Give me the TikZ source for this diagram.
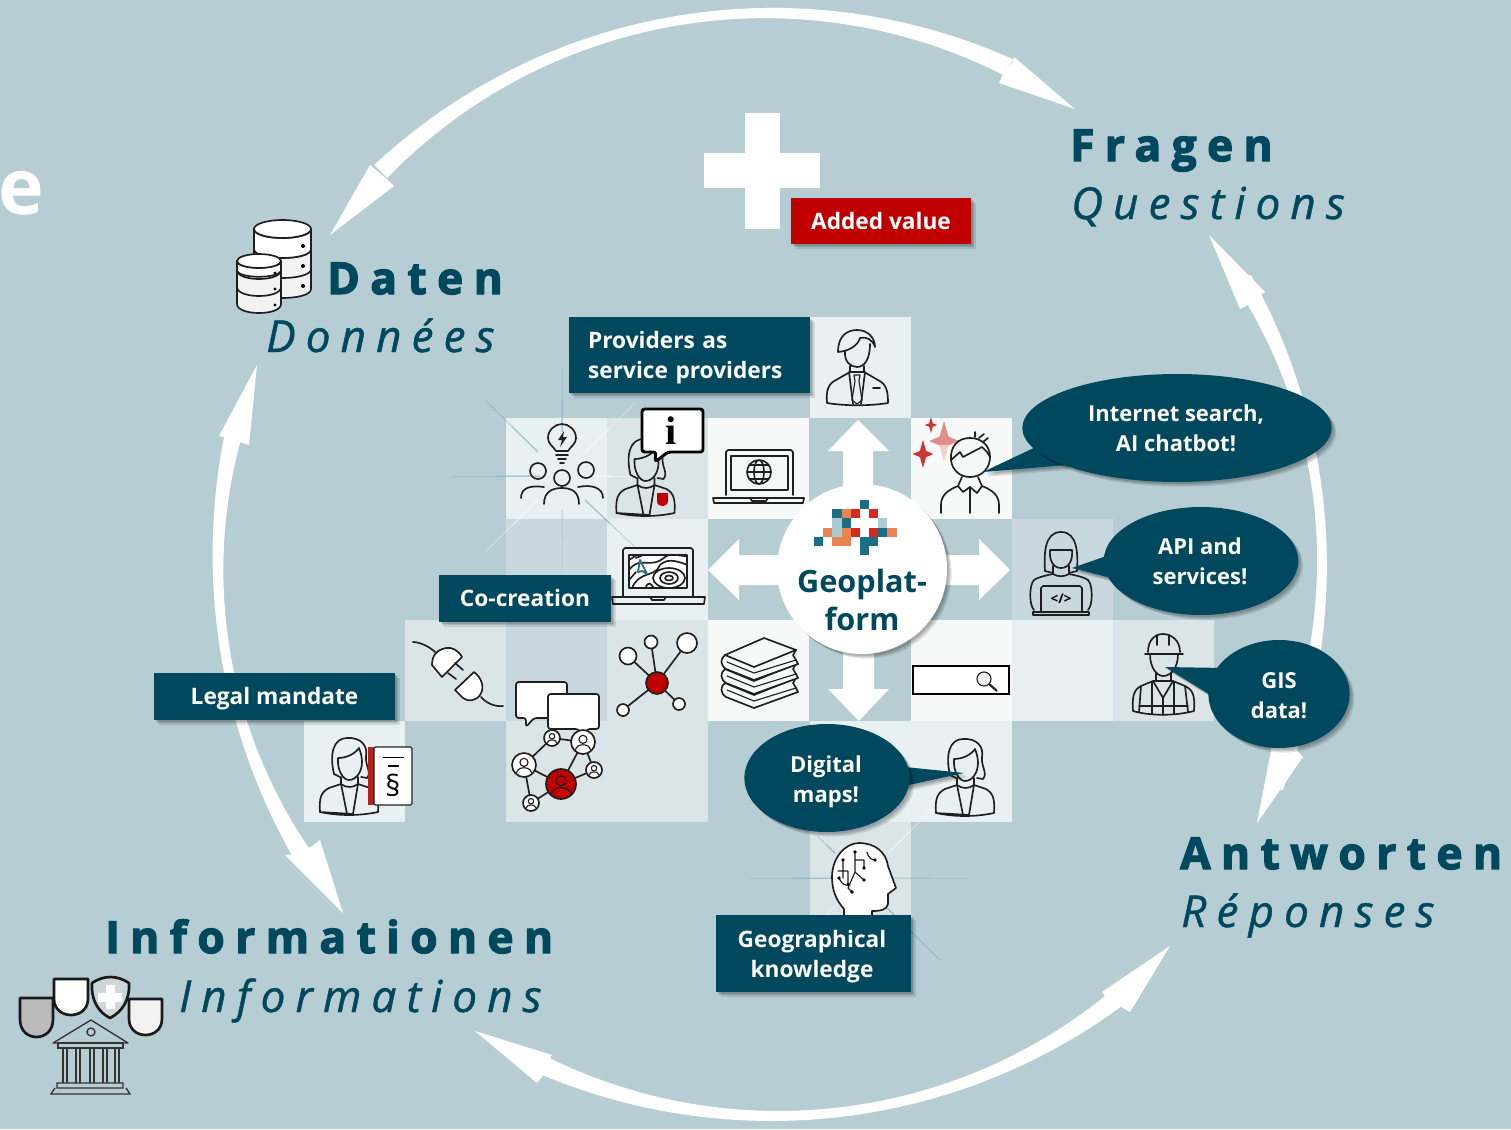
\documentclass[tikz,border=0pt]{standalone}
\usepackage{fontspec}
\setmainfont{Open Sans}
\newfontfamily\titlebold[LetterSpace=24,FakeBold=3]{Open Sans Bold}
\newfontfamily\titleital[LetterSpace=23,FakeBold=1]{Open Sans Italic}
\newfontfamily\serifbold{Liberation Serif Bold}
\usetikzlibrary{shapes.geometric,shadows,calc}
\definecolor{bgc}{HTML}{B5CDD3}
\definecolor{navy}{HTML}{00485E}
\definecolor{ca}{HTML}{E8F0F2}
\definecolor{cb}{HTML}{DBE5E8}
\definecolor{cc}{HTML}{C9D8DE}
\definecolor{cd}{HTML}{F7F9F9}
\definecolor{redc}{HTML}{C00000}
\definecolor{logoT}{HTML}{1C6E85}
\definecolor{logoO}{HTML}{E8844F}
\definecolor{logoR}{HTML}{D9291C}
\definecolor{logoL}{HTML}{A9CBD3}
\tikzset{
 softshadow/.style={
  general shadow={shadow xshift=1.5pt,shadow yshift=-1.5pt,fill=black,opacity=.12},
  general shadow={shadow xshift=2.5pt,shadow yshift=-2.5pt,fill=black,opacity=.12},
  general shadow={shadow xshift=3.5pt,shadow yshift=-3.5pt,fill=black,opacity=.10}},
 labelbox/.style={fill=navy,inner sep=0pt,softshadow},
 lbltext/.style={text=white,inner sep=0pt,align=center,font=\bfseries\fontsize{17}{22.5}\selectfont},
 bub/.style={ellipse,fill=navy,inner sep=0pt,softshadow},
 bubtext/.style={text=white,inner sep=0pt,align=center,font=\bfseries\fontsize{16.5}{22.5}\selectfont},
 tailshape/.style={fill=navy,softshadow},
 ic/.style={draw=black!88,line width=1.25pt,line join=round,line cap=round},
 icthin/.style={draw=black!88,line width=.85pt,line join=round,line cap=round},
 titleA/.style={anchor=base west,inner sep=0pt,text=navy,font=\titlebold\fontsize{33}{33}\selectfont},
 titleB/.style={anchor=base west,inner sep=0pt,text=navy,font=\titleital\fontsize{33}{33}\selectfont},
 declare function={hw(\a,\m,\h)=4.8+4.4*((\a-\m)/\h)^2;}
}
\newcommand{\cellbox}[3]{\fill[#3] (#1,#2) rectangle ++(101,101);}
\newcommand{\ringarc}[4]{%
 \pgfmathsetmacro{\mm}{(#1+#2)/2}\pgfmathsetmacro{\hh}{abs(#2-#1)/2}%
 \fill[white] plot[domain=#1:#2,samples=50] ({#3+(553+hw(\x,\mm,\hh))*cos(\x)},{#4+(550+hw(\x,\mm,\hh))*sin(\x)})
  -- plot[domain=#2:#1,samples=50] ({#3+(553-hw(\x,\mm,\hh))*cos(\x)},{#4+(550-hw(\x,\mm,\hh))*sin(\x)}) -- cycle;}
\newcommand{\ray}[5]{\draw[#5,line width=.5pt,opacity=.45] (#1,#2) -- (#3,#4);
 \draw[#5,line width=1.1pt,opacity=.3] ($(#1,#2)!.5!(#3,#4)$) -- (#3,#4);}
\newcommand{\womanbust}[2]{\begin{scope}[shift={(#1,#2)}]
 \draw[ic] (-15,36) .. controls (-20,15) and (-15,0) .. (-2,0) .. controls (12,-1) and (19,8) .. (17,18) .. controls (16,28) and (23,34) .. (18,40) -- (12,39);
 \draw[ic] (-15,36) -- (-9,39);
 \draw[ic] (-11,20) .. controls (-3,20) and (6,16) .. (10,10) .. controls (12,15) and (13,20) .. (13,24) .. controls (13,34) and (7,42) .. (0,42) .. controls (-6,42) and (-12,32) .. (-11,20);
 \draw[ic] (-8,39) -- (-8,46) .. controls (-3,50) and (4,50) .. (9,46) -- (9,39);
 \draw[ic] (-29,74) .. controls (-30,60) and (-28,54) .. (-20,50) -- (-8,46) -- (-2,76);
 \draw[ic] (4,76) -- (9,46) -- (21,50) .. controls (28,54) and (30,60) .. (29,74) .. controls (10,78) and (-10,78) .. (-29,74) -- cycle;
\end{scope}}
\newcommand{\sparkle}[4]{\fill[#4] (#1,{#2-#3}) -- ({#1+.22*#3},{#2-.22*#3}) -- ({#1+.75*#3},#2) -- ({#1+.22*#3},{#2+.22*#3}) -- (#1,{#2+#3}) -- ({#1-.22*#3},{#2+.22*#3}) -- ({#1-.75*#3},#2) -- ({#1-.22*#3},{#2-.22*#3}) -- cycle;}
\newcommand{\netnode}[4]{\filldraw[ic,fill=#4] (#1,#2) circle (#3);
 \draw[icthin] (#1,{#2-.22*#3}) circle ({.34*#3});
 \draw[icthin] ({#1-.62*#3},{#2+.62*#3}) .. controls ({#1-.5*#3},{#2+.1*#3}) and ({#1+.5*#3},{#2+.1*#3}) .. ({#1+.62*#3},{#2+.62*#3});}
\newcommand{\shieldd}[5]{\filldraw[draw=black!90,line width=2pt,line join=round,fill=#5] (#1,#2) -- (#3,#2) -- (#3,{#2+.55*(#4-#2)}) .. controls (#3,{#2+1.15*(#4-#2)}) and (#1,{#2+1.15*(#4-#2)}) .. (#1,{#2+.55*(#4-#2)}) -- cycle;}
\newcommand{\cylbody}[5]{\filldraw[ic,fill=#5] (#1,#3) -- (#1,#4) .. controls (#1,{#4+12}) and (#2,{#4+12}) .. (#2,#4) -- (#2,#3) -- cycle;}
\newcommand{\cylband}[3]{\draw[ic] (#1,#3) .. controls (#1,{#3+12}) and (#2,{#3+12}) .. (#2,#3);}
\newcommand{\bookk}[1]{\begin{scope}[shift={(0,#1)}]
 \filldraw[ic,fill=cd] (725,655) -- (764,638) -- (796,650) -- (793,655) -- (796,660) -- (798,664) -- (754,680) -- (726,669) .. controls (720,665) and (720,659) .. (725,655) -- cycle;
 \draw[ic] (725,655) -- (754,667) -- (796,650);
 \draw[icthin] (727,662) -- (754,673) -- (796,660);
\end{scope}}
\begin{document}
\begin{tikzpicture}[x=.75pt,y=-.75pt]
\useasboundingbox (0,0) rectangle (1511,1129);
\fill[bgc] (0,0) rectangle (1511,1129);
% grid cells
\cellbox{810}{317}{ca}
\cellbox{506}{418}{ca}\cellbox{607}{418}{cb}\cellbox{708}{418}{cd}\cellbox{911}{418}{cd}
\cellbox{506}{519}{cc}\cellbox{607}{519}{ca}\cellbox{1012}{519}{cc}
\cellbox{405}{620}{cb}\cellbox{506}{620}{cc}\cellbox{607}{620}{cb}\cellbox{708}{620}{cd}\cellbox{911}{620}{cd}\cellbox{1012}{620}{ca}\cellbox{1113}{620}{cb}
\cellbox{304}{721}{ca}\cellbox{506}{721}{cb}\cellbox{607}{721}{cb}\cellbox{810}{721}{ca}\cellbox{911}{721}{ca}
\fill[cb] (810,822) rectangle (911,925);
% ring
\ringarc{-134.6}{-64.3}{769}{563}
\ringarc{-31}{24}{769}{563}
\ringarc{52}{114.5}{775}{566}
\ringarc{148}{195}{771}{563}
\fill[white] (1075,109) -- (1014,57) -- (1012,63) -- (1002,76) -- (999,83) -- cycle;
\fill[white] (330,235) -- (370,165) -- (376,170) -- (388,180) -- (394,186) -- cycle;
\fill[white] (1209,235) -- (1265,292) -- (1258,297) -- (1246,306) -- (1240,309) -- cycle;
\fill[white] (1257,823) -- (1303,757) -- (1296,750) -- (1285,740) -- (1273,740) -- cycle;
\fill[white] (1170,946) -- (1102,992) -- (1108,1000) -- (1118,1005) -- (1130,1012) -- cycle;
\fill[white] (475,1031) -- (552,1055) -- (548,1062) -- (542,1077) -- (537,1083) -- cycle;
\fill[white] (257,365) -- (219,436) -- (227,438) -- (242,443) -- (249,445) -- cycle;
\fill[white] (343,913) -- (285,855) -- (298,854) -- (312,846) -- (320,840) -- cycle;
% rays
\foreach \a/\b/\c/\d/\e in {452/476/540/476/logoT!55,562/367/562/432/logoT!55,485/400/538/452/logoT!70,635/547/585/500/logoT!70,640/476/585/476/white,562/572/562/510/logoT!35,635/403/585/453/white,485/552/538/500/white,
 750/878/835/878/logoT!55,970/878/890/878/logoT!45,817/836/835/853/logoT!70,940/960/886/907/logoT!70,933/809/888/853/white,815/925/842/900/white}
 {\ray{\a}{\b}{\c}{\d}{\e}}
% central arrows
\fill[white] (858,420) -- (889,451) -- (873,451) -- (873,500) -- (843,500) -- (843,451) -- (828,451) -- cycle;
\fill[white] (1010,570) -- (979,600) -- (979,585) -- (930,585) -- (930,555) -- (979,555) -- (979,539) -- cycle;
\fill[white] (708,570) -- (739,600) -- (739,585) -- (790,585) -- (790,555) -- (739,555) -- (739,539) -- cycle;
\fill[white] (859,721) -- (828,689) -- (843,689) -- (843,640) -- (874,640) -- (874,689) -- (889,689) -- cycle;
% man with tie
\draw[ic] (838,352) .. controls (838,335) and (848,330) .. (857,330) .. controls (868,330) and (875,338) .. (875,347) .. controls (873,340) and (866,336) .. (860,338) .. controls (858,345) and (850,351) .. (838,352) -- cycle;
\draw[ic] (845,351) .. controls (844,361) and (850,367) .. (857,367) .. controls (864,367) and (870,360) .. (870,344);
\draw[ic] (850,366) -- (850,372) (864,366) -- (864,372);
\draw[ic] (827,403) .. controls (826,390) and (828,384) .. (836,380) -- (850,372) -- (864,372) -- (878,380) .. controls (886,384) and (888,390) .. (888,403) .. controls (870,406) and (845,406) .. (827,403) -- cycle;
\draw[ic] (849,372) -- (853,404) (865,372) -- (861,404);
\draw[icthin] (854,375) -- (860,375) -- (859,381) -- (862,400) -- (857,404) -- (852,400) -- (855,381) -- cycle;
\draw[ic] (873,388) -- (880,388);
% idea group
\draw[ic] (556,451) .. controls (553,446) and (548,444) .. (548,438) .. controls (548,430) and (555,424) .. (562,424) .. controls (569,424) and (576,430) .. (576,438) .. controls (576,444) and (571,446) .. (568,451) -- cycle;
\fill[black!88] (564,431) -- (558,440) -- (562,440) -- (560,447) -- (567,437) -- (563,437) -- cycle;
\draw[ic] (556,455) -- (568,455) (558,459) -- (566,459) (560,463) -- (564,463);
\draw[ic] (538,471) circle (8) (586,470) circle (8) (562,478) circle (8);
\draw[ic] (521,498) .. controls (521,488) and (530,485) .. (544,487) (603,498) .. controls (603,488) and (592,484) .. (578,487);
\draw[ic] (544,504) .. controls (544,492) and (552,488) .. (562,488) .. controls (572,488) and (579,492) .. (579,504);
% info woman
\womanbust{645.5}{439}
\fill[redc] (657,493) -- (668,493) -- (668,501) .. controls (668,505) and (664,506) .. (662,506) .. controls (660,506) and (657,505) .. (657,501) -- cycle;
\filldraw[draw=black,line width=2.2pt,fill=white,line join=round,rounded corners=2pt] (642,409) -- (703,409) -- (703,452) -- (668,452) -- (655,462) -- (656,452) -- (642,452) -- cycle;
\node[inner sep=0pt,font=\serifbold\fontsize{30}{30}\selectfont] (infoi) at (671,431) {i};
% laptop globe
\draw[ic] (726,495) -- (726,452) -- (728,450) -- (791,450) -- (793,452) -- (793,495);
\draw[icthin] (731,456) rectangle (788,490);
\draw[ic] (713,498) -- (804,498) -- (803,503) -- (714,503) -- cycle;
\draw[ic] (750,498) -- (752,501) -- (766,501) -- (768,498);
\draw[ic] (759,472) circle (12) (759,472) ellipse (5 and 12) (747,472) -- (771,472);
\draw[icthin] (749,465) -- (769,465) (749,479) -- (769,479);
% laptop map
\draw[ic] (623,596) -- (623,550) -- (625,548) -- (691,548) -- (693,550) -- (693,596);
\begin{scope}
\clip (629,555) rectangle (687,588);
\fill[white] (629,555) rectangle (687,588);
\draw[ic] (629,570) .. controls (640,555) and (650,570) .. (665,557) .. controls (672,552) and (680,557) .. (690,556);
\draw[ic] (632,588) .. controls (640,570) and (655,578) .. (660,565) .. controls (668,557) and (680,562) .. (690,566);
\draw[ic] (645,590) .. controls (648,578) and (652,585) .. (655,590);
\draw[ic] (669,578) ellipse (16 and 10) (669,578) ellipse (9 and 6) (669,578) ellipse (4 and 2.5);
\draw[ic] (629,560) -- (640,553) (629,580) -- (636,572) (636,558) -- (648,553);
\end{scope}
\draw[ic] (629,555) rectangle (687,588);
\draw[line width=1.4pt,draw=navy!80,line join=round] (638,572) -- (640,560) -- (647,574) -- (642,571) -- cycle;
\draw[ic] (612,597) -- (705,597) -- (704,604) -- (613,604) -- cycle;
\draw[ic] (650,597) -- (652,600) -- (664,600) -- (666,597);
% casual man + sparkles
\sparkle{944}{441}{20}{redc!45!white}
\sparkle{931}{425}{8}{redc!80!white}
\sparkle{923}{454}{14}{redc!80!white}
\fill[cd,opacity=.6] (932,445) rectangle (968,482);
\draw[ic] (951,460) .. controls (950,446) and (958,438) .. (970,438) .. controls (982,438) and (990,446) .. (990,457) .. controls (990,468) and (982,477) .. (970,477) .. controls (960,477) and (952,470) .. (951,460);
\draw[ic] (951,460) -- (960,452) -- (963,457) -- (982,447) -- (987,452) -- (990,457);
\draw[ic] (975,437) -- (975,432) (979,438) -- (984,434) (983,442) -- (988,438);
\draw[ic] (941,513) -- (941,505) .. controls (941,495) and (948,490) .. (958,486) -- (963,492) -- (970,487) -- (977,493) -- (982,486) .. controls (992,490) and (999,495) .. (999,505) -- (999,513);
\draw[ic] (970,487) -- (970,513) (962,477) -- (958,486) (978,477) -- (982,486);
% coder
\draw[ic] (1045,571) .. controls (1044,555) and (1044,532) .. (1061,532) .. controls (1078,532) and (1078,555) .. (1077,571) -- (1069,573);
\draw[ic] (1045,571) -- (1053,573);
\draw[ic] (1050,550) -- (1072,550) .. controls (1073,560) and (1069,568) .. (1061,568) .. controls (1053,568) and (1049,560) .. (1050,550);
\draw[ic] (1053,566) -- (1053,574) .. controls (1058,577) and (1064,577) .. (1069,574) -- (1069,566);
\draw[ic] (1034,610) .. controls (1029,605) and (1029,585) .. (1034,580) .. controls (1038,577) and (1048,575) .. (1053,574);
\draw[ic] (1088,610) .. controls (1093,605) and (1093,585) .. (1088,580) .. controls (1084,577) and (1074,575) .. (1069,574);
\draw[ic] (1041,612) -- (1041,588) -- (1043,586) -- (1080,586) -- (1082,588) -- (1082,612);
\draw[ic] (1033,612) -- (1089,612) -- (1089,615) -- (1033,615) -- cycle;
\node[inner sep=0pt,font=\bfseries\fontsize{10}{10}\selectfont] (codetxt) at (1061,599) {</>};
% plug
\draw[ic] (413,642) .. controls (420,642) and (430,647) .. (435,652);
\filldraw[ic,fill=white] (442,677) -- (462,657) .. controls (458,650) and (452,647) .. (446,648) .. controls (436,650) and (432,656) .. (432,665) -- cycle;
\draw[ic] (455,663) -- (463,670) (448,673) -- (456,679);
\filldraw[ic,fill=white] (455,690) -- (474,672) .. controls (482,678) and (485,688) .. (480,695) .. controls (476,701) and (468,702) .. (463,698) -- cycle;
\draw[ic] (481,697) .. controls (486,703) and (495,707) .. (503,706);
% chat bubbles
\filldraw[ic,fill=white,rounded corners=2pt] (516,682) -- (567,682) -- (567,718) -- (534,718) -- (526,727) -- (526,718) -- (516,718) -- cycle;
\filldraw[ic,fill=white,rounded corners=2pt] (548,694) -- (599,694) -- (599,729) -- (587,729) -- (585,736) -- (578,729) -- (548,729) -- cycle;
% network
\draw[ic] (552,738) -- (583,742) (552,738) -- (524,765) (524,765) -- (561,784) (524,765) -- (531,803) (583,742) -- (561,784) (583,742) -- (594,770) (561,784) -- (594,770) (561,784) -- (531,803);
\netnode{552}{738}{8}{white}
\netnode{583}{742}{12}{white}
\netnode{524}{765}{12}{white}
\netnode{594}{770}{8}{white}
\netnode{531}{803}{8}{white}
\netnode{561}{784}{15}{redc}
% hub
\draw[ic] (657,683) -- (628,656) (657,683) -- (651,642) (657,683) -- (687,643) (657,683) -- (623,710) (657,683) -- (679,704);
\filldraw[ic,fill=redc] (657,683) circle (11);
\filldraw[ic,fill=white] (628,656) circle (8.5) (651,642) circle (6.5) (687,643) circle (10) (623,710) circle (6) (679,704) circle (6);
% books
\bookk{28}\bookk{14}\bookk{0}
% search
\filldraw[draw=black,line width=2pt,fill=white] (913,666) rectangle (1009,694);
\draw[icthin,fill=black!5] (984,679) circle (7);
\draw[draw=black!88,line width=1.6pt] (989,684) -- (997,691);
% builder
\draw[ic] (1148,652) .. controls (1148,640) and (1155,634) .. (1163,634) .. controls (1171,634) and (1180,640) .. (1180,652);
\draw[ic] (1145,654) -- (1183,654) (1157,635) -- (1157,645) (1169,635) -- (1169,645);
\draw[ic] (1150,654) .. controls (1150,668) and (1157,676) .. (1163,676) .. controls (1171,676) and (1178,668) .. (1178,654);
\draw[ic] (1156,673) -- (1156,681) (1171,673) -- (1171,681);
\draw[ic] (1133,711) .. controls (1132,695) and (1134,690) .. (1141,686) -- (1153,681) -- (1173,681) -- (1185,686) .. controls (1193,690) and (1195,695) .. (1194,711) .. controls (1175,716) and (1150,716) .. (1133,711) -- cycle;
\draw[ic] (1141,686) -- (1139,712) (1185,686) -- (1188,712) (1153,681) -- (1163,698) -- (1173,681) (1163,698) -- (1163,715) (1139,706) -- (1188,706);
\draw[ic] (1152,682) -- (1152,714) (1174,682) -- (1174,714);
% digital woman
\womanbust{965}{739}
% brain
\filldraw[ic,fill=white] (844,922) -- (844,909) .. controls (836,900) and (832,890) .. (832,877) .. controls (832,858) and (845,843) .. (859,843) .. controls (875,843) and (886,852) .. (888,866) -- (896,888) -- (888,894) -- (888,904) .. controls (887,910) and (880,911) .. (872,911) -- (872,922);
\draw[icthin] (843,860) -- (843,878) (838,871) -- (848,871) (848,871) -- (848,884) (855,852) -- (855,872) -- (848,888) -- (852,892) (855,860) -- (864,860) -- (864,868) (855,872) -- (864,880) (839,878) .. controls (842,885) and (846,886) .. (850,885) (867,852) .. controls (868,857) and (871,860) .. (875,860);
\fill[black] (843,860) circle (1.8) (855,852) circle (1.8) (864,868) circle (1.8) (864,880) circle (1.8) (839,878) circle (1.8) (852,892) circle (1.8) (875,860) circle (1.8) (848,884) circle (1.5);
% book woman
\womanbust{349}{738}
\fill[logoR!85!black] (368,747) rectangle (374,805);
\filldraw[draw=black!88,line width=.8pt,fill=white,rounded corners=1pt] (374,747) rectangle (412,805);
\draw[line width=.6pt] (383,757) -- (404,757);
\draw[line width=1.2pt] (388,766) -- (399,766);
\node[inner sep=0pt,font=\fontsize{22}{22}\selectfont] (para) at (393,785) {§};
% database
\cylbody{254}{311}{229}{289}{black!5}
\cylband{254}{311}{249}
\cylband{254}{311}{269}
\filldraw[ic,fill=white] (254,229) .. controls (254,241) and (311,241) .. (311,229) -- (311,249) .. controls (311,261) and (254,261) .. (254,249) -- cycle;
\filldraw[ic,fill=white] (282.5,229) ellipse (28.5 and 9);
\fill[black] (303,246) circle (2) (303,266) circle (2) (303,286) circle (2);
\cylbody{237}{281}{261}{304}{black!5}
\cylband{237}{281}{270}
\cylband{237}{281}{287}
\filldraw[ic,fill=white] (237,261) .. controls (237,270) and (281,270) .. (281,261) -- (281,270) .. controls (281,279) and (237,279) .. (237,270) -- cycle;
\filldraw[ic,fill=white] (259,261) ellipse (22 and 7);
\fill[black] (275,273) circle (1.7) (275,289) circle (1.7) (275,305) circle (1.7);
% institution
\shieldd{20}{998}{53}{1037}{black!27}
\shieldd{54}{979}{88}{1015}{white}
\filldraw[draw=black!90,line width=2pt,line join=round,fill=black!25!bgc!40!white] (92,983) .. controls (104,975) and (117,975) .. (129,983) .. controls (130,1000) and (122,1012) .. (110,1018) .. controls (98,1012) and (91,1000) .. (92,983) -- cycle;
\fill[white] (106,985) rectangle (115,1009) (98,993) rectangle (122,1002);
\shieldd{129}{999}{162}{1035}{black!5}
\draw[draw=black!80,line width=1pt,line join=round] (91,1020) -- (53,1043) -- (128,1043) -- cycle (91,1032) circle (4);
\draw[draw=black!80,line width=1pt] (58,1043) rectangle (123,1048);
\foreach \c in {63,76,90,103,115}{\draw[draw=black!80,line width=1pt] (\c,1048) -- (\c,1083) ({\c+4},1048) -- ({\c+4},1083);}
\draw[draw=black!80,line width=1pt] (57,1083) rectangle (123,1088) (55,1088) -- (51,1094) -- (130,1094) -- (126,1088);
% centre
\node[circle,fill=white,minimum size=127.5pt,inner sep=0pt,softshadow] (hub) at (862,569) {};
\foreach \c/\r/\k in {5/0/logoT,2/1/logoT,3/1/logoO,4/1/logoR,6/1/logoR,2/2/logoL,3/2/logoT,7/2/logoL,1/3/logoO,2/3/logoL,3/3/logoO,4/3/logoR,6/3/logoR,7/3/logoT,8/3/logoO,0/4/logoT,2/4/logoO,3/4/logoO,5/4/logoT,6/4/logoT,5/5/logoT}
 {\fill[\k] ({814+9.17*\c},{500+9.17*\r}) rectangle +(9.17,9.17);}
\node[inner sep=0pt,text=navy,align=center,font=\bfseries\fontsize{23}{28.5}\selectfont] (geo) at (862,600) {Geoplat-\\form};
% letter at left edge
\node[anchor=base west,inner sep=0pt,text=white,font=\bfseries\fontsize{58}{58}\selectfont] (edge) at (-2,214) {e};
% titles
\node[titleA] (t1) at (1070,161) {Fragen};
\node[titleB] (t2) at (1071,219) {Questions};
\node[titleA] (t3) at (327,294) {Daten};
\node[titleB] (t4) at (266,352) {Données};
\node[titleA] (t5) at (1180,869) {Antworten};
\node[titleB] (t6) at (1181,927) {Réponses};
\node[titleA] (t7) at (105,953) {Informationen};
\node[titleB] (t8) at (179,1012) {Informations};
% plus
\fill[white] (745,113) rectangle (780,229);
\fill[white] (704,153) rectangle (820,188);
% boxes
\node[labelbox,fill=redc,minimum width=135pt,minimum height=34.5pt] (added) at (881,221) {};
\node[lbltext] (addedt) at (881,221) {Added value};
\node[labelbox,minimum width=180.75pt,minimum height=57pt] (prov) at (689.5,355) {};
\node[lbltext,text width=152pt,align=left] (provt) at (689.5,358) {Providers as\\service providers};
\node[labelbox,minimum width=129pt,minimum height=35.25pt] (cocr) at (525,598.5) {};
\node[lbltext] (cocrt) at (525,597.5) {Co-creation};
\node[labelbox,minimum width=180.75pt,minimum height=35.25pt] (legal) at (274.5,696.5) {};
\node[lbltext] (legalt) at (274.5,698.5) {Legal mandate};
\node[labelbox,minimum width=146.25pt,minimum height=57.75pt] (geok) at (813.5,953.5) {};
\node[lbltext] (geokt) at (812,956.5) {Geographical\\knowledge};
% bubbles
\fill[tailshape] (1040,445) -- (983,472) -- (1067,465) -- cycle;
\node[bub,minimum width=232pt,minimum height=81pt] (b1) at (1177,428) {};
\node[bubtext] (b1t) at (1176,428) {Internet search,\\AI chatbot!};
\fill[tailshape] (1115,553) -- (1072,568) -- (1115,579) -- cycle;
\node[bub,minimum width=146pt,minimum height=81pt] (b2) at (1201,561) {};
\node[bubtext] (b2t) at (1200,561) {API and\\services!};
\fill[tailshape] (1225,668) -- (1165,667) -- (1225,704) -- cycle;
\node[bub,minimum width=106pt,minimum height=81pt] (b3) at (1279,694) {};
\node[bubtext] (b3t) at (1279,696) {GIS\\data!};
\fill[tailshape] (895,766) -- (964,773) -- (895,788) -- cycle;
\node[bub,minimum width=124pt,minimum height=81pt] (b4) at (827,778) {};
\node[bubtext] (b4t) at (826,782) {Digital\\maps!};
\end{tikzpicture}
\end{document}
